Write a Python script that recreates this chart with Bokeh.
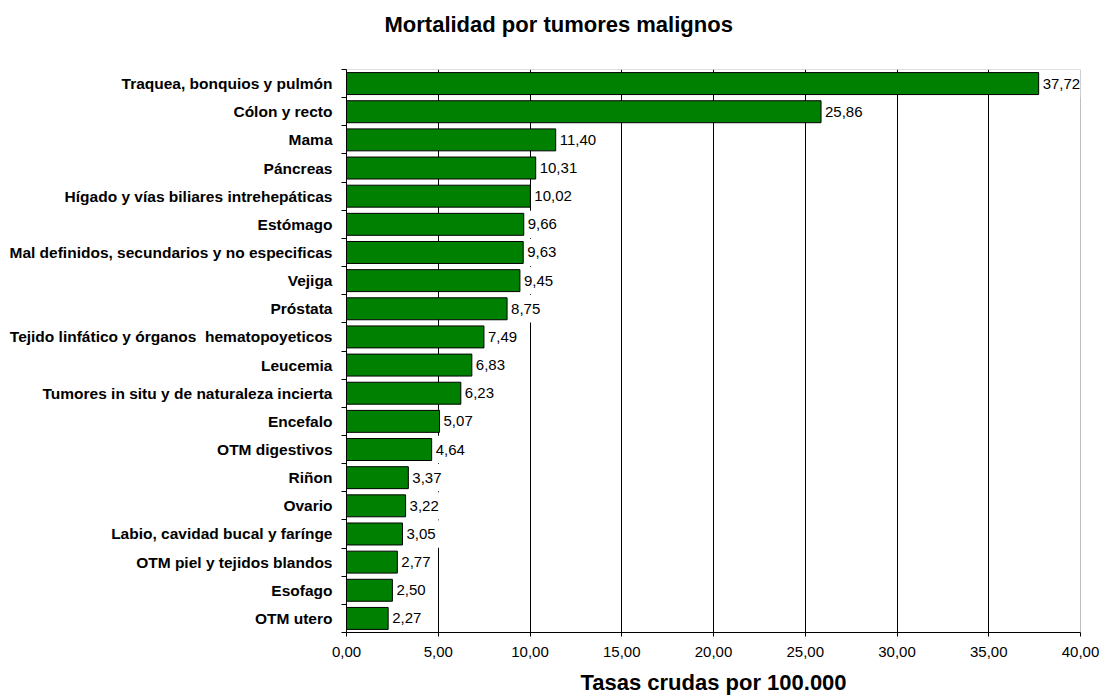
from bokeh.plotting import figure
from bokeh.models import (ColumnDataSource, FixedTicker, Range1d, Span, LabelSet, Title)
from bokeh.core.properties import value
from bokeh.embed import file_html
from bokeh.resources import INLINE

# ---- data ----
categories = [
    "Traquea, bonquios y pulmón",
    "Cólon y recto",
    "Mama",
    "Páncreas",
    "Hígado y vías biliares intrehepáticas",
    "Estómago",
    "Mal definidos, secundarios y no especificas",
    "Vejiga",
    "Próstata",
    "Tejido linfático y órganos \u00a0hematopoyeticos",
    "Leucemia",
    "Tumores in situ y de naturaleza incierta",
    "Encefalo",
    "OTM digestivos",
    "Riñon",
    "Ovario",
    "Labio, cavidad bucal y farínge",
    "OTM piel y tejidos blandos",
    "Esofago",
    "OTM utero",
]
values = [37.72, 25.86, 11.40, 10.31, 10.02, 9.66, 9.63, 9.45, 8.75, 7.49,
          6.83, 6.23, 5.07, 4.64, 3.37, 3.22, 3.05, 2.77, 2.50, 2.27]
x_ticks = [0, 5, 10, 15, 20, 25, 30, 35, 40]
x_tick_labels = ["0,00", "5,00", "10,00", "15,00", "20,00", "25,00",
                 "30,00", "35,00", "40,00"]
title_text = "Mortalidad por tumores malignos"
x_title = "Tasas crudas por 100.000"

FONT = "Liberation Sans"
W, H = 1102, 697
BL, BR, BT, BB = 346, 22, 69, 65
n = len(categories)
# each category occupies 2 units on the y scale; centers at odd integers
centers = [2 * (n - i) - 1 for i in range(n)]
value_labels = [f"{v:.2f}".replace(".", ",") for v in values]

# pixel -> data conversion on x (for the white boxes behind value labels)
px = (x_ticks[-1] - x_ticks[0]) / (W - BL - BR)
LABEL_SIZE = 15
def text_px(s):
    return sum(0.278 * LABEL_SIZE if ch == "," else 0.556 * LABEL_SIZE for ch in s)
box_left = [v + 2 * px for v in values]
box_right = [v + (4 + text_px(s) + 5) * px for v, s in zip(values, value_labels)]

p = figure(width=W, height=H, output_backend="svg", toolbar_location=None,
           x_range=Range1d(x_ticks[0], x_ticks[-1]), y_range=Range1d(0, 2 * n),
           min_border_left=BL, min_border_right=BR, min_border_top=BT,
           min_border_bottom=BB, background_fill_color="white",
           border_fill_color="white", outline_line_color=None)

# title (spacer title between frame and main title pushes it upward)
p.add_layout(Title(text=" ", text_font=FONT, text_font_size="14px"), "above")
p.title.text = title_text
p.title.align = "left"
p.title.offset = 38
p.title.text_font = FONT
p.title.text_font_style = "bold"
p.title.text_font_size = "22px"
p.title.text_color = "black"

src = ColumnDataSource(dict(y=centers, v=values, lab=value_labels,
                            bl=box_left, br=box_right))
# white boxes behind the value labels (hide gridlines like the original)
p.hbar(y="y", left="bl", right="br", height=1.94, source=src,
       fill_color="white", line_color=None)
p.hbar(y="y", left=0, right="v", height=1.56, source=src,
       fill_color="#008000", line_color="black", line_width=1)

# gridlines & borders
p.ygrid.visible = False
p.xgrid.ticker = FixedTicker(ticks=x_ticks[1:-1])
p.xgrid.grid_line_color = "black"
p.xgrid.grid_line_width = 1
p.add_layout(Span(location=2 * n, dimension="width", line_color="#c0c0c0",
                  line_width=1, level="underlay"))
p.add_layout(Span(location=x_ticks[-1], dimension="height", line_color="#808080",
                  line_width=1, level="underlay"))

# x axis
xa = p.xaxis[0]
xa.ticker = FixedTicker(ticks=x_ticks)
xa.major_label_overrides = {t: l for t, l in zip(x_ticks, x_tick_labels)}
xa.axis_line_color = "black"
xa.major_tick_line_color = "black"
xa.major_tick_out = 4
xa.major_tick_in = 0
xa.minor_tick_line_color = None
xa.major_label_standoff = 10
xa.major_label_text_font = FONT
xa.major_label_text_font_size = "15px"
xa.major_label_text_color = "black"
xa.axis_label = x_title
xa.axis_label_text_font = FONT
xa.axis_label_text_font_style = "bold"
xa.axis_label_text_font_size = "22px"
xa.axis_label_text_color = "black"
xa.axis_label_standoff = 10

# y axis (labels at centers, ticks at boundaries)
ya = p.yaxis[0]
ya.ticker = FixedTicker(ticks=centers, minor_ticks=list(range(0, 2 * n + 1, 2)))
ya.major_label_overrides = {c: name for c, name in zip(centers, categories)}
ya.axis_line_color = "black"
ya.major_tick_line_color = None
ya.major_tick_out = 0
ya.major_tick_in = 0
ya.minor_tick_line_color = "black"
ya.minor_tick_out = 5
ya.minor_tick_in = 0
ya.major_label_standoff = 9
ya.major_label_text_font = FONT
ya.major_label_text_font_style = "bold"
ya.major_label_text_font_size = "15.5px"
ya.major_label_text_color = "black"

# value labels
p.add_layout(LabelSet(x="v", y="y", text="lab", source=src, x_offset=4,
                      text_baseline="middle", text_align="left",
                      text_font=value(FONT), text_font_size=f"{LABEL_SIZE}px",
                      text_color="black"))

open("out.html", "w").write(file_html(p, INLINE))
